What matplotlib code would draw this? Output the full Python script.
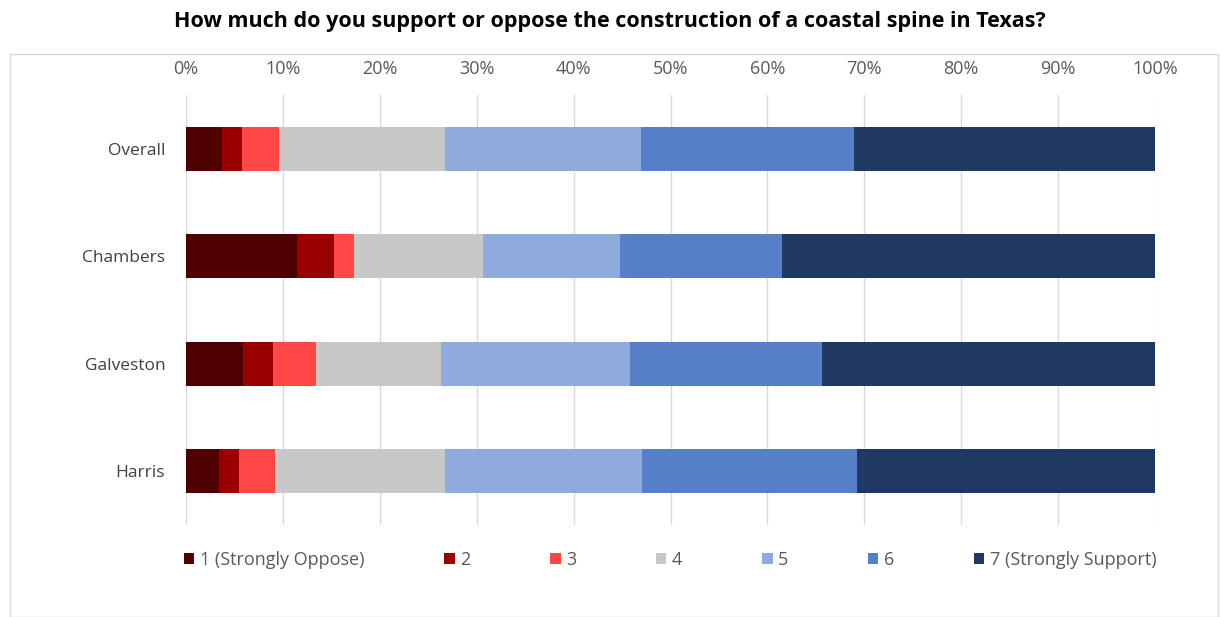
import numpy as np
import matplotlib.pyplot as plt
from matplotlib.patches import Rectangle

# survey shares (%), one list per response level
categories = ["Overall", "Chambers", "Galveston", "Harris"]
level_1 = [3.7, 11.5, 5.9, 3.4]
level_2 = [2.1, 3.8, 3.1, 2.1]
level_3 = [3.8, 2.0, 4.4, 3.7]
level_4 = [17.1, 13.4, 12.9, 17.5]
level_5 = [20.3, 14.1, 19.5, 20.4]
level_6 = [21.9, 16.7, 19.8, 22.1]
level_7 = [31.1, 38.5, 34.4, 30.8]

series_labels = ["1 (Strongly Oppose)", "2", "3", "4", "5", "6", "7 (Strongly Support)"]
colors = ["#4f0000", "#9b0000", "#ff4747", "#c8c8c8", "#8faadc", "#5580c8", "#203864"]

plt.rcParams['font.family'] = ['Open Sans', 'DejaVu Sans']

fig = plt.figure(figsize=(12.2, 6.17), dpi=100)
fig.patches.append(Rectangle((10 / 1220, 0), 1208 / 1220, 1 - 54 / 617,
                             transform=fig.transFigure, fill=False,
                             edgecolor="#d9d9d9", linewidth=1))

ax = fig.add_axes([186 / 1220, 1 - 525 / 617, 969 / 1220, 430 / 617])

y = np.arange(len(categories))
left = np.zeros(len(categories))
for vals, lab, col in zip([level_1, level_2, level_3, level_4, level_5, level_6, level_7],
                          series_labels, colors):
    vals = np.array(vals)
    ax.barh(y, vals, left=left, height=0.41, color=col, label=lab, zorder=3)
    left += vals

ax.set_xlim(0, 100)
ax.set_ylim(3.5, -0.5)
ax.set_xticks(np.arange(0, 101, 10))
ax.set_xticklabels([f"{v}%" for v in range(0, 101, 10)])
ax.xaxis.tick_top()
ax.tick_params(axis='x', length=0, pad=12, labelsize=13, labelcolor="#595959")
ax.set_yticks(y)
ax.set_yticklabels(categories)
ax.tick_params(axis='y', length=0, pad=15, labelsize=12.5, labelcolor="#404040")
ax.grid(axis='x', color="#d9d9d9", linewidth=1, zorder=0)
for s in ax.spines.values():
    s.set_visible(False)

fig.text(0.5, 1 - 22 / 617, "How much do you support or oppose the construction of a coastal spine in Texas?",
         ha='center', va='center', fontsize=15.5, fontweight='bold', color="#000000")

leg = fig.legend(loc='center', bbox_to_anchor=(670 / 1220, 1 - 560 / 617), ncol=7,
                 frameon=False, fontsize=13, handlelength=0.6, handleheight=0.6,
                 handletextpad=0.3, columnspacing=4.4, labelcolor="#595959")

fig.savefig("out.png", dpi=100)
